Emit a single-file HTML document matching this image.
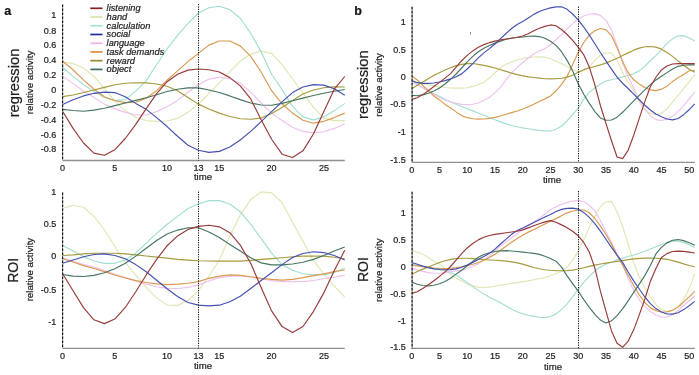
<!DOCTYPE html><html><head><meta charset="utf-8"><style>html,body{margin:0;padding:0;background:#fff;}svg{display:block;will-change:transform;filter:blur(0.3px);}text{font-family:"Liberation Sans",sans-serif;fill:#1e1e1e;stroke:#1e1e1e;stroke-width:0.22px;}</style></head><body>
<svg width="699" height="375" viewBox="0 0 699 375">
<rect width="699" height="375" fill="#fff"/>
<rect x="470" y="32" width="0.9" height="2.7" fill="#8c8c8c"/>
<text x="4.3" y="14.8" font-size="12.5" font-weight="bold" fill="#111" style="fill:#111">a</text>
<text x="354.2" y="14.8" font-size="12.5" font-weight="bold" style="fill:#111">b</text>
<path d="M62.60,62.31 L73.05,63.43 L83.50,67.91 L93.95,76.50 L104.40,88.45 L114.85,101.15 L125.30,110.86 L135.75,117.21 L146.20,120.57 L156.65,121.32 L167.10,120.95 L177.55,118.33 L188.00,112.36 L198.45,104.14 L208.90,93.68 L219.35,82.85 L229.80,71.65 L240.25,61.19 L250.70,54.09 L261.15,51.10 L271.60,53.34 L282.05,64.55 L292.50,78.74 L302.95,92.94 L313.40,107.13 L323.85,118.33 L334.30,120.57 L344.75,120.57" fill="none" stroke="#e2e6b2" stroke-width="1.15" stroke-linejoin="round"/>
<path d="M62.60,67.54 L73.05,76.13 L83.50,84.72 L93.95,91.44 L104.40,97.42 L114.85,100.41 L125.30,99.66 L135.75,91.07 L146.20,80.61 L156.65,64.55 L167.10,48.86 L177.55,35.42 L188.00,23.46 L198.45,13.01 L208.90,7.78 L219.35,6.28 L229.80,9.64 L240.25,18.23 L250.70,33.17 L261.15,51.85 L271.60,74.26 L282.05,89.57 L292.50,106.38 L302.95,116.84 L313.40,119.83 L323.85,116.84 L334.30,110.86 L344.75,103.39" fill="none" stroke="#a3ded2" stroke-width="1.15" stroke-linejoin="round"/>
<path d="M62.60,76.13 L73.05,83.60 L83.50,91.07 L93.95,97.42 L104.40,104.14 L114.85,108.62 L125.30,112.36 L135.75,114.97 L146.20,114.97 L156.65,111.61 L167.10,106.75 L177.55,100.41 L188.00,92.19 L198.45,84.72 L208.90,79.12 L219.35,77.10 L229.80,78.74 L240.25,83.22 L250.70,92.19 L261.15,103.02 L271.60,113.10 L282.05,120.57 L292.50,127.30 L302.95,131.41 L313.40,132.90 L323.85,131.78 L334.30,128.42 L344.75,123.94" fill="none" stroke="#efc2ee" stroke-width="1.15" stroke-linejoin="round"/>
<path d="M62.60,61.19 L73.05,69.78 L83.50,79.86 L93.95,89.20 L104.40,96.67 L114.85,100.78 L125.30,102.65 L135.75,102.27 L146.20,98.16 L156.65,90.69 L167.10,80.24 L177.55,70.90 L188.00,61.56 L198.45,53.34 L208.90,45.13 L219.35,41.02 L229.80,41.02 L240.25,45.87 L250.70,56.33 L261.15,72.02 L271.60,90.69 L282.05,103.77 L292.50,113.10 L302.95,120.20 L313.40,123.19 L323.85,121.32 L334.30,117.59 L344.75,113.10" fill="none" stroke="#d99a50" stroke-width="1.15" stroke-linejoin="round"/>
<path d="M62.60,96.67 L73.05,95.03 L83.50,92.56 L93.95,89.95 L104.40,87.33 L114.85,84.72 L125.30,83.22 L135.75,82.70 L146.20,82.85 L156.65,83.97 L167.10,86.21 L177.55,90.69 L188.00,97.42 L198.45,104.14 L208.90,109.00 L219.35,113.10 L229.80,116.47 L240.25,118.71 L250.70,119.30 L261.15,117.96 L271.60,113.48 L282.05,107.50 L292.50,100.41 L302.95,94.06 L313.40,89.95 L323.85,87.71 L334.30,86.81 L344.75,86.96" fill="none" stroke="#a69a3e" stroke-width="1.15" stroke-linejoin="round"/>
<path d="M62.60,109.37 L73.05,110.49 L83.50,111.24 L93.95,110.12 L104.40,108.25 L114.85,105.63 L125.30,103.02 L135.75,100.41 L146.20,97.79 L156.65,94.80 L167.10,91.44 L177.55,89.20 L188.00,87.86 L198.45,87.86 L208.90,89.95 L219.35,92.56 L229.80,95.92 L240.25,99.66 L250.70,103.02 L261.15,105.04 L271.60,105.26 L282.05,103.39 L292.50,100.78 L302.95,98.16 L313.40,95.55 L323.85,93.31 L334.30,91.29 L344.75,89.50" fill="none" stroke="#46765f" stroke-width="1.15" stroke-linejoin="round"/>
<path d="M62.60,104.51 L73.05,99.81 L83.50,95.92 L93.95,93.31 L104.40,92.19 L114.85,92.56 L125.30,96.67 L135.75,103.39 L146.20,109.37 L156.65,117.59 L167.10,126.55 L177.55,136.26 L188.00,145.23 L198.45,150.30 L208.90,152.40 L219.35,151.35 L229.80,147.09 L240.25,140.00 L250.70,131.41 L261.15,121.69 L271.60,111.61 L282.05,101.90 L292.50,92.56 L302.95,86.96 L313.40,84.57 L323.85,85.09 L334.30,88.83 L344.75,95.18" fill="none" stroke="#4450b0" stroke-width="1.15" stroke-linejoin="round"/>
<path d="M62.60,111.24 L73.05,128.42 L83.50,142.98 L93.95,153.07 L104.40,155.31 L114.85,149.71 L125.30,138.50 L135.75,124.31 L146.20,108.62 L156.65,93.68 L167.10,81.73 L177.55,74.26 L188.00,70.15 L198.45,69.03 L208.90,69.78 L219.35,72.02 L229.80,77.62 L240.25,85.84 L250.70,98.91 L261.15,119.83 L271.60,139.25 L282.05,154.19 L292.50,157.55 L302.95,150.83 L313.40,134.02 L323.85,111.61 L334.30,89.20 L344.75,76.50" fill="none" stroke="#973a3a" stroke-width="1.15" stroke-linejoin="round"/>
<line x1="62.6" y1="160.5" x2="344.8" y2="160.5" stroke="#909090" stroke-width="1.3"/>
<line x1="62.6" y1="4.4" x2="62.6" y2="160.5" stroke="#a0a0a0" stroke-width="1"/>
<line x1="62.6" y1="4.4" x2="62.6" y2="160.5" stroke="#151515" stroke-width="1.15" stroke-dasharray="2.7,1.3"/>
<line x1="198.5" y1="4.0" x2="198.5" y2="160.5" stroke="#111" stroke-width="1.0" stroke-dasharray="1.2,1.2"/>
<path d="M62.60,208.55 L73.05,205.29 L83.50,207.25 L93.95,216.38 L104.40,229.74 L114.85,246.37 L125.30,262.67 L135.75,275.06 L146.20,287.44 L156.65,297.88 L167.10,305.05 L177.55,305.37 L188.00,300.48 L198.45,290.70 L208.90,276.36 L219.35,260.06 L229.80,235.94 L240.25,215.07 L250.70,199.42 L261.15,191.93 L271.60,192.90 L282.05,202.68 L292.50,222.24 L302.95,241.15 L313.40,260.71 L323.85,273.75 L334.30,286.14 L344.75,297.22" fill="none" stroke="#e2e6b2" stroke-width="1.15" stroke-linejoin="round"/>
<path d="M62.60,245.39 L73.05,250.93 L83.50,256.60 L93.95,261.04 L104.40,263.32 L114.85,263.32 L125.30,260.06 L135.75,253.21 L146.20,243.11 L156.65,233.33 L167.10,224.20 L177.55,216.38 L188.00,208.55 L198.45,203.99 L208.90,200.60 L219.35,200.60 L229.80,203.99 L240.25,211.81 L250.70,224.20 L261.15,238.67 L271.60,253.21 L282.05,264.62 L292.50,270.17 L302.95,273.75 L313.40,274.93 L323.85,274.93 L334.30,272.45 L344.75,268.21" fill="none" stroke="#a3ded2" stroke-width="1.15" stroke-linejoin="round"/>
<path d="M62.60,258.10 L73.05,261.36 L83.50,264.30 L93.95,267.10 L104.40,270.49 L114.85,274.40 L125.30,277.66 L135.75,280.92 L146.20,284.18 L156.65,286.79 L167.10,288.42 L177.55,288.55 L188.00,287.44 L198.45,284.84 L208.90,280.92 L219.35,277.66 L229.80,276.36 L240.25,276.03 L250.70,277.01 L261.15,278.97 L271.60,280.60 L282.05,281.58 L292.50,281.64 L302.95,281.64 L313.40,280.53 L323.85,278.77 L334.30,277.21 L344.75,275.38" fill="none" stroke="#efc2ee" stroke-width="1.15" stroke-linejoin="round"/>
<path d="M62.60,258.76 L73.05,262.02 L83.50,265.60 L93.95,268.54 L104.40,271.60 L114.85,275.06 L125.30,277.99 L135.75,280.60 L146.20,282.55 L156.65,283.86 L167.10,284.58 L177.55,284.18 L188.00,283.21 L198.45,281.58 L208.90,278.32 L219.35,276.10 L229.80,274.93 L240.25,275.38 L250.70,276.75 L261.15,278.32 L271.60,279.42 L282.05,280.08 L292.50,279.42 L302.95,277.66 L313.40,275.64 L323.85,273.82 L334.30,271.60 L344.75,270.04" fill="none" stroke="#d99a50" stroke-width="1.15" stroke-linejoin="round"/>
<path d="M62.60,255.50 L73.05,254.84 L83.50,253.93 L93.95,253.21 L104.40,253.21 L114.85,253.21 L125.30,253.93 L135.75,254.84 L146.20,255.95 L156.65,257.06 L167.10,258.10 L177.55,259.41 L188.00,260.06 L198.45,260.71 L208.90,261.04 L219.35,261.10 L229.80,261.10 L240.25,261.10 L250.70,260.39 L261.15,259.41 L271.60,258.56 L282.05,257.71 L292.50,256.80 L302.95,256.15 L313.40,255.95 L323.85,256.15 L334.30,257.26 L344.75,258.76" fill="none" stroke="#a69a3e" stroke-width="1.15" stroke-linejoin="round"/>
<path d="M62.60,274.53 L73.05,276.10 L83.50,276.49 L93.95,275.38 L104.40,272.71 L114.85,268.67 L125.30,263.32 L135.75,256.15 L146.20,248.32 L156.65,240.50 L167.10,233.98 L177.55,230.07 L188.00,227.79 L198.45,227.79 L208.90,232.02 L219.35,237.57 L229.80,244.41 L240.25,250.93 L250.70,257.71 L261.15,262.86 L271.60,264.88 L282.05,264.88 L292.50,263.97 L302.95,262.21 L313.40,259.41 L323.85,255.50 L334.30,250.93 L344.75,247.02" fill="none" stroke="#46765f" stroke-width="1.15" stroke-linejoin="round"/>
<path d="M62.60,263.32 L73.05,260.06 L83.50,256.80 L93.95,254.52 L104.40,253.87 L114.85,255.50 L125.30,258.76 L135.75,264.62 L146.20,271.80 L156.65,280.27 L167.10,288.75 L177.55,296.57 L188.00,302.44 L198.45,305.18 L208.90,305.90 L219.35,305.18 L229.80,301.79 L240.25,296.25 L250.70,288.42 L261.15,280.53 L271.60,272.71 L282.05,264.62 L292.50,257.45 L302.95,253.54 L313.40,251.78 L323.85,252.56 L334.30,255.50 L344.75,260.06" fill="none" stroke="#4450b0" stroke-width="1.15" stroke-linejoin="round"/>
<path d="M62.60,273.75 L73.05,290.70 L83.50,307.66 L93.95,319.78 L104.40,323.63 L114.85,319.07 L125.30,307.46 L135.75,291.75 L146.20,274.93 L156.65,259.41 L167.10,245.72 L177.55,235.94 L188.00,229.42 L198.45,226.35 L208.90,225.24 L219.35,226.81 L229.80,232.68 L240.25,245.06 L250.70,263.32 L261.15,287.44 L271.60,310.92 L282.05,326.56 L292.50,332.56 L302.95,326.50 L313.40,311.57 L323.85,292.86 L334.30,270.49 L344.75,250.28" fill="none" stroke="#973a3a" stroke-width="1.15" stroke-linejoin="round"/>
<line x1="62.6" y1="348.4" x2="344.8" y2="348.4" stroke="#909090" stroke-width="1.3"/>
<line x1="62.6" y1="192.4" x2="62.6" y2="348.4" stroke="#a0a0a0" stroke-width="1"/>
<line x1="62.6" y1="192.4" x2="62.6" y2="348.4" stroke="#151515" stroke-width="1.15" stroke-dasharray="2.7,1.3"/>
<line x1="198.5" y1="191.6" x2="198.5" y2="348.4" stroke="#111" stroke-width="1.0" stroke-dasharray="1.2,1.2"/>
<path d="M411.70,81.33 L417.25,82.45 L422.80,83.57 L428.35,84.71 L433.90,85.87 L439.45,86.81 L445.00,87.48 L450.55,87.93 L456.10,88.18 L461.65,88.19 L467.20,87.71 L472.75,86.38 L478.30,84.63 L483.85,82.36 L489.40,78.05 L494.95,72.71 L500.50,67.78 L506.05,64.18 L511.60,61.86 L517.15,59.99 L522.70,58.58 L528.25,57.57 L533.80,57.00 L539.35,56.85 L544.90,57.18 L550.45,58.73 L556.00,61.16 L561.55,63.77 L567.10,66.52 L572.65,69.22 L578.20,72.02 L583.75,71.03 L589.30,66.77 L594.85,60.40 L600.40,55.29 L605.95,52.75 L611.50,53.07 L617.05,60.01 L622.60,72.66 L628.15,81.72 L633.70,91.02 L639.25,101.71 L644.80,110.15 L650.35,113.36 L655.90,114.87 L661.45,113.40 L667.00,108.93 L672.55,102.16 L678.10,95.44 L683.65,88.59 L689.20,81.58 L694.75,74.72" fill="none" stroke="#e2e6b2" stroke-width="1.15" stroke-linejoin="round"/>
<path d="M411.70,81.44 L417.25,84.65 L422.80,87.85 L428.35,90.92 L433.90,93.68 L439.45,96.34 L445.00,99.14 L450.55,101.85 L456.10,104.22 L461.65,106.42 L467.20,108.64 L472.75,110.85 L478.30,113.03 L483.85,115.22 L489.40,117.48 L494.95,119.77 L500.50,121.89 L506.05,123.87 L511.60,125.47 L517.15,126.74 L522.70,127.83 L528.25,128.73 L533.80,129.58 L539.35,130.38 L544.90,130.91 L550.45,130.93 L556.00,129.32 L561.55,126.24 L567.10,120.76 L572.65,114.66 L578.20,108.10 L583.75,99.13 L589.30,92.34 L594.85,88.03 L600.40,83.97 L605.95,81.01 L611.50,79.76 L617.05,78.47 L622.60,76.96 L628.15,75.53 L633.70,73.74 L639.25,70.88 L644.80,66.28 L650.35,60.75 L655.90,55.65 L661.45,49.57 L667.00,43.42 L672.55,38.83 L678.10,35.83 L683.65,35.63 L689.20,38.07 L694.75,41.12" fill="none" stroke="#a3ded2" stroke-width="1.15" stroke-linejoin="round"/>
<path d="M411.70,81.44 L417.25,84.60 L422.80,87.75 L428.35,90.95 L433.90,94.37 L439.45,97.51 L445.00,99.98 L450.55,101.93 L456.10,103.40 L461.65,104.34 L467.20,104.68 L472.75,104.25 L478.30,102.97 L483.85,100.50 L489.40,97.20 L494.95,92.90 L500.50,87.28 L506.05,79.94 L511.60,72.96 L517.15,67.44 L522.70,62.52 L528.25,58.00 L533.80,53.95 L539.35,50.92 L544.90,48.61 L550.45,44.73 L556.00,39.77 L561.55,34.55 L567.10,28.91 L572.65,23.62 L578.20,19.18 L583.75,15.98 L589.30,14.25 L594.85,13.66 L600.40,15.36 L605.95,20.38 L611.50,29.85 L617.05,45.55 L622.60,62.81 L628.15,76.71 L633.70,87.76 L639.25,99.81 L644.80,108.98 L650.35,115.85 L655.90,119.63 L661.45,120.44 L667.00,119.17 L672.55,116.16 L678.10,111.63 L683.65,105.62 L689.20,98.93 L694.75,92.08" fill="none" stroke="#efc2ee" stroke-width="1.15" stroke-linejoin="round"/>
<path d="M411.70,76.01 L417.25,79.98 L422.80,85.36 L428.35,90.68 L433.90,96.00 L439.45,99.92 L445.00,104.40 L450.55,107.76 L456.10,111.89 L461.65,115.60 L467.20,117.67 L472.75,118.70 L478.30,119.15 L483.85,118.97 L489.40,118.40 L494.95,117.37 L500.50,115.97 L506.05,114.26 L511.60,112.63 L517.15,111.03 L522.70,109.08 L528.25,106.76 L533.80,104.22 L539.35,101.45 L544.90,98.88 L550.45,95.96 L556.00,90.92 L561.55,84.45 L567.10,76.43 L572.65,64.55 L578.20,52.45 L583.75,42.48 L589.30,35.07 L594.85,30.77 L600.40,28.52 L605.95,29.87 L611.50,35.72 L617.05,47.44 L622.60,61.38 L628.15,72.69 L633.70,79.78 L639.25,84.11 L644.80,87.53 L650.35,89.84 L655.90,90.59 L661.45,89.18 L667.00,86.15 L672.55,81.58 L678.10,77.85 L683.65,74.43 L689.20,70.72 L694.75,70.52" fill="none" stroke="#d99a50" stroke-width="1.15" stroke-linejoin="round"/>
<path d="M411.70,88.72 L417.25,85.36 L422.80,82.00 L428.35,78.64 L433.90,75.34 L439.45,72.65 L445.00,70.02 L450.55,67.72 L456.10,65.59 L461.65,64.42 L467.20,63.58 L472.75,63.54 L478.30,64.31 L483.85,65.35 L489.40,66.60 L494.95,68.04 L500.50,69.68 L506.05,71.37 L511.60,73.10 L517.15,74.59 L522.70,75.86 L528.25,76.85 L533.80,77.55 L539.35,78.18 L544.90,78.71 L550.45,78.87 L556.00,78.79 L561.55,78.28 L567.10,77.13 L572.65,75.28 L578.20,72.34 L583.75,69.65 L589.30,67.97 L594.85,66.45 L600.40,64.92 L605.95,63.12 L611.50,60.84 L617.05,58.32 L622.60,55.57 L628.15,52.86 L633.70,50.16 L639.25,48.10 L644.80,46.80 L650.35,46.45 L655.90,47.15 L661.45,49.16 L667.00,52.45 L672.55,56.35 L678.10,60.85 L683.65,65.23 L689.20,69.33 L694.75,72.26" fill="none" stroke="#a69a3e" stroke-width="1.15" stroke-linejoin="round"/>
<path d="M411.70,95.33 L417.25,95.72 L422.80,94.88 L428.35,93.31 L433.90,90.96 L439.45,87.99 L445.00,84.02 L450.55,79.31 L456.10,73.99 L461.65,68.00 L467.20,61.84 L472.75,56.36 L478.30,51.74 L483.85,48.30 L489.40,45.45 L494.95,43.10 L500.50,41.09 L506.05,39.28 L511.60,38.03 L517.15,37.51 L522.70,37.01 L528.25,36.30 L533.80,36.06 L539.35,36.56 L544.90,38.28 L550.45,41.26 L556.00,45.38 L561.55,51.69 L567.10,60.35 L572.65,70.92 L578.20,83.71 L583.75,94.24 L589.30,103.38 L594.85,111.52 L600.40,117.97 L605.95,120.20 L611.50,119.97 L617.05,117.14 L622.60,112.29 L628.15,106.53 L633.70,100.87 L639.25,95.31 L644.80,89.90 L650.35,84.66 L655.90,79.90 L661.45,76.25 L667.00,72.64 L672.55,69.02 L678.10,66.32 L683.65,65.24 L689.20,64.80 L694.75,64.81" fill="none" stroke="#46765f" stroke-width="1.15" stroke-linejoin="round"/>
<path d="M411.70,80.66 L417.25,82.67 L422.80,83.34 L428.35,83.34 L433.90,82.95 L439.45,82.00 L445.00,80.66 L450.55,78.92 L456.10,76.68 L461.65,73.88 L467.20,68.99 L472.75,63.57 L478.30,57.89 L483.85,52.86 L489.40,48.66 L494.95,44.00 L500.50,38.69 L506.05,33.51 L511.60,28.48 L517.15,24.45 L522.70,21.41 L528.25,18.05 L533.80,14.37 L539.35,11.58 L544.90,9.53 L550.45,7.90 L556.00,6.88 L561.55,6.75 L567.10,9.35 L572.65,14.01 L578.20,19.84 L583.75,27.03 L589.30,35.07 L594.85,43.72 L600.40,52.54 L605.95,60.94 L611.50,69.12 L617.05,77.12 L622.60,83.25 L628.15,88.49 L633.70,94.15 L639.25,99.74 L644.80,105.19 L650.35,109.98 L655.90,113.93 L661.45,116.79 L667.00,119.03 L672.55,119.93 L678.10,118.46 L683.65,114.67 L689.20,109.71 L694.75,103.84" fill="none" stroke="#4450b0" stroke-width="1.15" stroke-linejoin="round"/>
<path d="M411.70,99.36 L417.25,97.68 L422.80,94.60 L428.35,90.68 L433.90,86.48 L439.45,82.39 L445.00,78.08 L450.55,73.60 L456.10,67.16 L461.65,60.72 L467.20,55.40 L472.75,50.92 L478.30,47.35 L483.85,44.64 L489.40,42.67 L494.95,41.10 L500.50,39.94 L506.05,39.00 L511.60,38.24 L517.15,37.23 L522.70,35.98 L528.25,33.80 L533.80,30.67 L539.35,28.24 L544.90,26.36 L550.45,24.94 L556.00,25.75 L561.55,29.50 L567.10,34.51 L572.65,40.34 L578.20,47.11 L583.75,54.83 L589.30,67.10 L594.85,84.78 L600.40,105.52 L605.95,123.44 L611.50,140.80 L617.05,157.04 L622.60,158.61 L628.15,150.32 L633.70,135.20 L639.25,118.40 L644.80,101.60 L650.35,86.75 L655.90,77.24 L661.45,69.91 L667.00,66.05 L672.55,64.05 L678.10,63.63 L683.65,63.53 L689.20,63.58 L694.75,63.63" fill="none" stroke="#973a3a" stroke-width="1.15" stroke-linejoin="round"/>
<line x1="411.7" y1="162.4" x2="694.8" y2="162.4" stroke="#909090" stroke-width="1.3"/>
<line x1="412.1" y1="6.7" x2="412.1" y2="162.4" stroke="#a0a0a0" stroke-width="1"/>
<line x1="412.1" y1="6.7" x2="412.1" y2="162.4" stroke="#151515" stroke-width="1.15" stroke-dasharray="2.7,1.3"/>
<line x1="578.5" y1="6.6" x2="578.5" y2="162.4" stroke="#111" stroke-width="1.0" stroke-dasharray="1.2,1.2"/>
<path d="M411.70,250.39 L417.25,252.21 L422.80,254.27 L428.35,257.50 L433.90,261.28 L439.45,264.02 L445.00,268.11 L450.55,274.20 L456.10,278.13 L461.65,281.05 L467.20,283.67 L472.75,285.90 L478.30,287.09 L483.85,287.46 L489.40,287.19 L494.95,286.20 L500.50,285.18 L506.05,284.27 L511.60,283.42 L517.15,282.69 L522.70,281.87 L528.25,280.83 L533.80,279.71 L539.35,278.68 L544.90,277.53 L550.45,275.78 L556.00,273.59 L561.55,271.49 L567.10,267.15 L572.65,260.17 L578.20,250.91 L583.75,239.87 L589.30,227.38 L594.85,216.07 L600.40,206.68 L605.95,201.70 L611.50,201.42 L617.05,211.75 L622.60,226.35 L628.15,243.99 L633.70,262.93 L639.25,276.96 L644.80,287.81 L650.35,297.02 L655.90,304.50 L661.45,309.48 L667.00,311.40 L672.55,310.59 L678.10,306.62 L683.65,299.62 L689.20,288.58 L694.75,273.75" fill="none" stroke="#e2e6b2" stroke-width="1.15" stroke-linejoin="round"/>
<path d="M411.70,263.81 L417.25,265.19 L422.80,266.50 L428.35,267.59 L433.90,268.65 L439.45,269.78 L445.00,271.08 L450.55,272.66 L456.10,274.74 L461.65,278.74 L467.20,282.83 L472.75,286.65 L478.30,290.38 L483.85,294.02 L489.40,297.25 L494.95,299.99 L500.50,302.85 L506.05,306.03 L511.60,309.00 L517.15,311.67 L522.70,313.83 L528.25,315.28 L533.80,316.34 L539.35,317.29 L544.90,317.59 L550.45,316.44 L556.00,313.86 L561.55,309.70 L567.10,303.89 L572.65,296.73 L578.20,289.07 L583.75,282.37 L589.30,276.40 L594.85,271.00 L600.40,267.00 L605.95,264.29 L611.50,261.92 L617.05,259.92 L622.60,258.15 L628.15,256.57 L633.70,254.93 L639.25,253.23 L644.80,251.25 L650.35,249.03 L655.90,246.79 L661.45,244.52 L667.00,242.56 L672.55,241.15 L678.10,241.15 L683.65,242.35 L689.20,244.72 L694.75,247.44" fill="none" stroke="#a3ded2" stroke-width="1.15" stroke-linejoin="round"/>
<path d="M411.70,268.43 L417.25,269.91 L422.80,271.38 L428.35,272.57 L433.90,273.22 L439.45,273.29 L445.00,272.64 L450.55,271.60 L456.10,270.94 L461.65,270.34 L467.20,268.82 L472.75,266.50 L478.30,263.62 L483.85,260.16 L489.40,255.79 L494.95,250.74 L500.50,246.17 L506.05,241.86 L511.60,237.75 L517.15,233.84 L522.70,229.85 L528.25,225.79 L533.80,221.89 L539.35,218.15 L544.90,214.04 L550.45,209.78 L556.00,206.80 L561.55,204.37 L567.10,202.49 L572.65,201.06 L578.20,200.38 L583.75,201.70 L589.30,205.23 L594.85,210.85 L600.40,220.44 L605.95,231.75 L611.50,242.41 L617.05,253.95 L622.60,264.47 L628.15,278.55 L633.70,290.34 L639.25,299.53 L644.80,306.40 L650.35,311.47 L655.90,314.94 L661.45,317.01 L667.00,316.84 L672.55,314.78 L678.10,310.73 L683.65,305.43 L689.20,300.70 L694.75,296.04" fill="none" stroke="#efc2ee" stroke-width="1.15" stroke-linejoin="round"/>
<path d="M411.70,265.21 L417.25,265.93 L422.80,266.65 L428.35,267.37 L433.90,268.01 L439.45,268.42 L445.00,268.56 L450.55,268.28 L456.10,267.65 L461.65,266.78 L467.20,265.64 L472.75,264.23 L478.30,262.50 L483.85,260.26 L489.40,257.54 L494.95,254.23 L500.50,250.32 L506.05,246.31 L511.60,242.18 L517.15,238.44 L522.70,235.14 L528.25,232.12 L533.80,229.42 L539.35,226.75 L544.90,224.01 L550.45,221.28 L556.00,218.62 L561.55,215.80 L567.10,212.83 L572.65,211.03 L578.20,210.04 L583.75,209.96 L589.30,212.75 L594.85,218.47 L600.40,226.12 L605.95,234.52 L611.50,244.12 L617.05,255.26 L622.60,265.12 L628.15,275.17 L633.70,285.51 L639.25,294.85 L644.80,302.47 L650.35,307.87 L655.90,310.61 L661.45,311.95 L667.00,311.87 L672.55,310.18 L678.10,306.97 L683.65,302.15 L689.20,296.86 L694.75,291.31" fill="none" stroke="#d99a50" stroke-width="1.15" stroke-linejoin="round"/>
<path d="M411.70,274.45 L417.25,271.58 L422.80,269.15 L428.35,266.95 L433.90,264.67 L439.45,262.43 L445.00,260.69 L450.55,259.40 L456.10,258.58 L461.65,258.26 L467.20,258.30 L472.75,258.67 L478.30,259.09 L483.85,259.54 L489.40,259.95 L494.95,260.27 L500.50,260.67 L506.05,261.13 L511.60,261.84 L517.15,262.84 L522.70,264.12 L528.25,265.88 L533.80,267.55 L539.35,268.78 L544.90,269.72 L550.45,270.26 L556.00,270.60 L561.55,270.80 L567.10,270.57 L572.65,270.07 L578.20,269.03 L583.75,267.70 L589.30,266.40 L594.85,265.12 L600.40,264.03 L605.95,263.07 L611.50,262.21 L617.05,261.43 L622.60,260.56 L628.15,259.67 L633.70,258.94 L639.25,258.37 L644.80,258.13 L650.35,258.16 L655.90,258.30 L661.45,258.56 L667.00,259.31 L672.55,260.62 L678.10,262.14 L683.65,263.92 L689.20,265.53 L694.75,266.71" fill="none" stroke="#a69a3e" stroke-width="1.15" stroke-linejoin="round"/>
<path d="M411.70,281.97 L417.25,284.26 L422.80,285.54 L428.35,285.94 L433.90,285.27 L439.45,283.74 L445.00,281.46 L450.55,278.19 L456.10,274.14 L461.65,270.20 L467.20,265.78 L472.75,261.38 L478.30,257.28 L483.85,254.46 L489.40,252.72 L494.95,251.50 L500.50,250.83 L506.05,250.66 L511.60,251.05 L517.15,251.55 L522.70,252.10 L528.25,252.72 L533.80,253.33 L539.35,254.37 L544.90,256.24 L550.45,258.42 L556.00,261.17 L561.55,267.10 L567.10,275.93 L572.65,283.68 L578.20,291.20 L583.75,299.47 L589.30,307.30 L594.85,314.30 L600.40,320.09 L605.95,323.02 L611.50,320.83 L617.05,315.65 L622.60,308.92 L628.15,300.82 L633.70,292.39 L639.25,284.17 L644.80,275.63 L650.35,265.52 L655.90,253.97 L661.45,247.40 L667.00,242.87 L672.55,240.26 L678.10,239.56 L683.65,240.66 L689.20,242.83 L694.75,245.18" fill="none" stroke="#46765f" stroke-width="1.15" stroke-linejoin="round"/>
<path d="M411.70,262.42 L417.25,264.33 L422.80,266.13 L428.35,267.64 L433.90,268.84 L439.45,269.53 L445.00,269.74 L450.55,269.56 L456.10,268.90 L461.65,267.32 L467.20,264.98 L472.75,262.38 L478.30,259.45 L483.85,256.43 L489.40,253.25 L494.95,249.13 L500.50,244.04 L506.05,239.11 L511.60,234.34 L517.15,230.56 L522.70,228.08 L528.25,225.28 L533.80,222.40 L539.35,219.71 L544.90,217.06 L550.45,214.41 L556.00,211.54 L561.55,209.41 L567.10,208.33 L572.65,208.08 L578.20,209.14 L583.75,212.41 L589.30,217.32 L594.85,223.61 L600.40,231.09 L605.95,239.22 L611.50,247.39 L617.05,255.05 L622.60,262.35 L628.15,271.97 L633.70,280.91 L639.25,289.00 L644.80,296.98 L650.35,303.67 L655.90,308.56 L661.45,312.02 L667.00,313.98 L672.55,314.18 L678.10,312.74 L683.65,309.60 L689.20,305.75 L694.75,301.40" fill="none" stroke="#4450b0" stroke-width="1.15" stroke-linejoin="round"/>
<path d="M411.70,293.35 L417.25,291.74 L422.80,288.52 L428.35,284.76 L433.90,280.73 L439.45,276.43 L445.00,271.87 L450.55,266.50 L456.10,260.06 L461.65,253.61 L467.20,247.97 L472.75,243.54 L478.30,239.86 L483.85,237.31 L489.40,235.51 L494.95,234.32 L500.50,233.56 L506.05,232.77 L511.60,232.02 L517.15,231.30 L522.70,229.88 L528.25,227.84 L533.80,225.82 L539.35,223.80 L544.90,221.87 L550.45,220.59 L556.00,222.31 L561.55,224.87 L567.10,227.75 L572.65,231.32 L578.20,235.82 L583.75,242.45 L589.30,251.96 L594.85,268.07 L600.40,291.20 L605.95,311.07 L611.50,330.94 L617.05,343.29 L622.60,347.32 L628.15,341.14 L633.70,329.87 L639.25,314.83 L644.80,299.26 L650.35,281.42 L655.90,268.49 L661.45,257.41 L667.00,253.61 L672.55,251.54 L678.10,251.10 L683.65,251.40 L689.20,252.11 L694.75,252.97" fill="none" stroke="#973a3a" stroke-width="1.15" stroke-linejoin="round"/>
<line x1="411.7" y1="348.4" x2="694.8" y2="348.4" stroke="#909090" stroke-width="1.3"/>
<line x1="412.1" y1="191.7" x2="412.1" y2="348.4" stroke="#a0a0a0" stroke-width="1"/>
<line x1="412.1" y1="191.7" x2="412.1" y2="348.4" stroke="#151515" stroke-width="1.15" stroke-dasharray="2.7,1.3"/>
<line x1="578.5" y1="191.0" x2="578.5" y2="348.4" stroke="#111" stroke-width="1.0" stroke-dasharray="1.2,1.2"/>
<text x="56.2" y="17.9" font-size="9" text-anchor="end">1</text>
<text x="56.2" y="33.9" font-size="9" text-anchor="end">0.8</text>
<text x="56.2" y="48.4" font-size="9" text-anchor="end">0.6</text>
<text x="56.2" y="62.9" font-size="9" text-anchor="end">0.4</text>
<text x="56.2" y="77.6" font-size="9" text-anchor="end">0.2</text>
<text x="56.2" y="92.5" font-size="9" text-anchor="end">0</text>
<text x="56.2" y="107.8" font-size="9" text-anchor="end">-0.2</text>
<text x="56.2" y="122.8" font-size="9" text-anchor="end">-0.4</text>
<text x="56.2" y="137.7" font-size="9" text-anchor="end">-0.6</text>
<text x="56.2" y="152.3" font-size="9" text-anchor="end">-0.8</text>
<text x="56.2" y="195.0" font-size="9" text-anchor="end">1</text>
<text x="56.2" y="227.3" font-size="9" text-anchor="end">0.5</text>
<text x="56.2" y="259.3" font-size="9" text-anchor="end">0</text>
<text x="56.2" y="293.0" font-size="9" text-anchor="end">-0.5</text>
<text x="56.2" y="325.0" font-size="9" text-anchor="end">-1</text>
<text x="405.8" y="25.0" font-size="9" text-anchor="end">1</text>
<text x="405.8" y="53.0" font-size="9" text-anchor="end">0.5</text>
<text x="405.8" y="79.8" font-size="9" text-anchor="end">0</text>
<text x="405.8" y="107.2" font-size="9" text-anchor="end">-0.5</text>
<text x="405.8" y="135.4" font-size="9" text-anchor="end">-1</text>
<text x="405.8" y="163.2" font-size="9" text-anchor="end">-1.5</text>
<text x="405.8" y="215.5" font-size="9" text-anchor="end">1</text>
<text x="405.8" y="243.0" font-size="9" text-anchor="end">0.5</text>
<text x="405.8" y="269.6" font-size="9" text-anchor="end">0</text>
<text x="405.8" y="297.0" font-size="9" text-anchor="end">-0.5</text>
<text x="405.8" y="324.2" font-size="9" text-anchor="end">-1</text>
<text x="405.8" y="350.3" font-size="9" text-anchor="end">-1.5</text>
<text x="62.6" y="170.9" font-size="9" text-anchor="middle">0</text>
<text x="114.8" y="170.9" font-size="9" text-anchor="middle">5</text>
<text x="167.1" y="170.9" font-size="9" text-anchor="middle">10</text>
<text x="198.4" y="170.9" font-size="9" text-anchor="middle">13</text>
<text x="219.3" y="170.9" font-size="9" text-anchor="middle">15</text>
<text x="271.6" y="170.9" font-size="9" text-anchor="middle">20</text>
<text x="323.9" y="170.9" font-size="9" text-anchor="middle">25</text>
<text x="62.6" y="358.8" font-size="9" text-anchor="middle">0</text>
<text x="114.8" y="358.8" font-size="9" text-anchor="middle">5</text>
<text x="167.1" y="358.8" font-size="9" text-anchor="middle">10</text>
<text x="198.4" y="358.8" font-size="9" text-anchor="middle">13</text>
<text x="219.3" y="358.8" font-size="9" text-anchor="middle">15</text>
<text x="271.6" y="358.8" font-size="9" text-anchor="middle">20</text>
<text x="323.9" y="358.8" font-size="9" text-anchor="middle">25</text>
<text x="411.7" y="172.8" font-size="9" text-anchor="middle">0</text>
<text x="439.4" y="172.8" font-size="9" text-anchor="middle">5</text>
<text x="467.2" y="172.8" font-size="9" text-anchor="middle">10</text>
<text x="494.9" y="172.8" font-size="9" text-anchor="middle">15</text>
<text x="522.7" y="172.8" font-size="9" text-anchor="middle">20</text>
<text x="550.5" y="172.8" font-size="9" text-anchor="middle">25</text>
<text x="578.2" y="172.8" font-size="9" text-anchor="middle">30</text>
<text x="606.0" y="172.8" font-size="9" text-anchor="middle">35</text>
<text x="633.7" y="172.8" font-size="9" text-anchor="middle">40</text>
<text x="661.5" y="172.8" font-size="9" text-anchor="middle">45</text>
<text x="689.2" y="172.8" font-size="9" text-anchor="middle">50</text>
<text x="411.7" y="358.8" font-size="9" text-anchor="middle">0</text>
<text x="439.4" y="358.8" font-size="9" text-anchor="middle">5</text>
<text x="467.2" y="358.8" font-size="9" text-anchor="middle">10</text>
<text x="494.9" y="358.8" font-size="9" text-anchor="middle">15</text>
<text x="522.7" y="358.8" font-size="9" text-anchor="middle">20</text>
<text x="550.5" y="358.8" font-size="9" text-anchor="middle">25</text>
<text x="578.2" y="358.8" font-size="9" text-anchor="middle">30</text>
<text x="606.0" y="358.8" font-size="9" text-anchor="middle">35</text>
<text x="633.7" y="358.8" font-size="9" text-anchor="middle">40</text>
<text x="661.5" y="358.8" font-size="9" text-anchor="middle">45</text>
<text x="689.2" y="358.8" font-size="9" text-anchor="middle">50</text>
<text x="203" y="180" font-size="9.6" text-anchor="middle">time</text>
<text x="203" y="369.3" font-size="9.6" text-anchor="middle">time</text>
<text x="552" y="183.2" font-size="9.6" text-anchor="middle">time</text>
<text x="553" y="370" font-size="9.6" text-anchor="middle">time</text>
<text transform="translate(18.5,83.0) rotate(-90)" font-size="14.7" text-anchor="middle">regression</text>
<text transform="translate(32.5,82.4) rotate(-90)" font-size="9.7" text-anchor="middle">relative activity</text>
<text transform="translate(18.0,270.4) rotate(-90)" font-size="14.0" text-anchor="middle">ROI</text>
<text transform="translate(32.5,269.6) rotate(-90)" font-size="9.7" text-anchor="middle">relative activity</text>
<text transform="translate(368.3,84.7) rotate(-90)" font-size="14.7" text-anchor="middle">regression</text>
<text transform="translate(382.4,85.0) rotate(-90)" font-size="9.7" text-anchor="middle">relative activity</text>
<text transform="translate(368.0,269.6) rotate(-90)" font-size="14.0" text-anchor="middle">ROI</text>
<text transform="translate(382.4,270.2) rotate(-90)" font-size="9.7" text-anchor="middle">relative activity</text>
<line x1="90.3" y1="8.30" x2="102.5" y2="8.30" stroke="#8a1c1c" stroke-width="1.7"/>
<text x="106.6" y="11.30" font-size="9.28" font-style="italic">listening</text>
<line x1="90.3" y1="17.03" x2="102.5" y2="17.03" stroke="#dde5a8" stroke-width="1.7"/>
<text x="106.6" y="20.03" font-size="9.28" font-style="italic">hand</text>
<line x1="90.3" y1="25.76" x2="102.5" y2="25.76" stroke="#a6e6d6" stroke-width="1.7"/>
<text x="106.6" y="28.76" font-size="9.28" font-style="italic">calculation</text>
<line x1="90.3" y1="34.49" x2="102.5" y2="34.49" stroke="#1c2c9c" stroke-width="1.7"/>
<text x="106.6" y="37.49" font-size="9.28" font-style="italic">social</text>
<line x1="90.3" y1="43.22" x2="102.5" y2="43.22" stroke="#f0b2f0" stroke-width="1.7"/>
<text x="106.6" y="46.22" font-size="9.28" font-style="italic">language</text>
<line x1="90.3" y1="51.95" x2="102.5" y2="51.95" stroke="#e08c42" stroke-width="1.7"/>
<text x="106.6" y="54.95" font-size="9.28" font-style="italic">task demands</text>
<line x1="90.3" y1="60.68" x2="102.5" y2="60.68" stroke="#9a8c32" stroke-width="1.7"/>
<text x="106.6" y="63.68" font-size="9.28" font-style="italic">reward</text>
<line x1="90.3" y1="69.41" x2="102.5" y2="69.41" stroke="#3a7060" stroke-width="1.7"/>
<text x="106.6" y="72.41" font-size="9.28" font-style="italic">object</text>
</svg></body></html>
